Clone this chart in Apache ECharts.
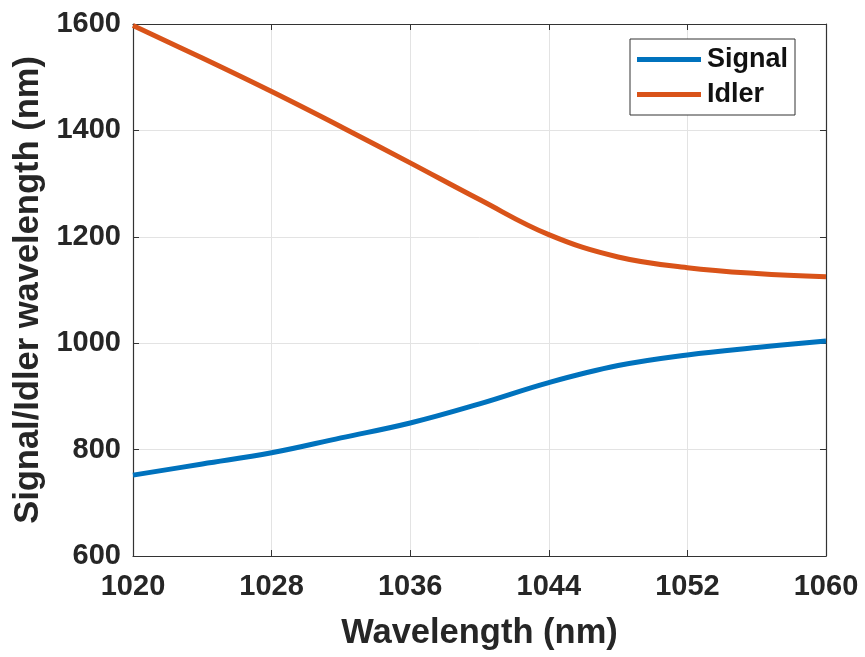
<!DOCTYPE html>
<html>
<head>
<meta charset="utf-8">
<script src="https://cdn.jsdelivr.net/npm/echarts@6/dist/echarts.min.js"></script>
<style>html,body{margin:0;padding:0;background:#fff}#c{width:865px;height:657px}</style>
</head>
<body>
<div id="c"></div>
<script>
const wavelengths = [1020, 1024, 1028, 1032, 1036, 1040, 1044, 1048, 1052, 1056, 1060];
const signalValues = [752, 773, 794, 822, 850, 886, 926, 958, 978, 992, 1004];
const idlerValues = [1597, 1536, 1473, 1407, 1339, 1270, 1204, 1162, 1142, 1131, 1125];
const xTicks = [1020, 1028, 1036, 1044, 1052, 1060];
const yTicks = [600, 800, 1000, 1200, 1400, 1600];

const FONT = '"Liberation Sans", Arial, sans-serif';
const AX = '#333333';
const GRIDC = '#e3e3e3';

const chart = echarts.init(document.getElementById('c'), null, {renderer: 'canvas'});
const pair = (xs, ys) => xs.map((x, i) => [x, ys[i]]);
const plain = v => String(v);

chart.setOption({
  animation: false,
  backgroundColor: '#ffffff',
  grid: {left: 133, right: 39, top: 24, bottom: 101, containLabel: false},
  legend: {
    orient: 'vertical',
    left: 630, top: 39,
    icon: 'rect',
    itemWidth: 64, itemHeight: 5,
    itemGap: 8,
    padding: [7, 7, 7, 7],
    borderColor: '#333', borderWidth: 1,
    backgroundColor: '#fff',
    textStyle: {fontFamily: FONT, fontWeight: 'bold', fontSize: 27, color: '#111', padding: [0,0,0,1]},
    data: ['Signal', 'Idler']
  },
  xAxis: [{
    type: 'value', min: 1020, max: 1060,
    name: 'Wavelength (nm)', nameLocation: 'middle', nameGap: 60,
    nameTextStyle: {fontFamily: FONT, fontWeight: 'bold', fontSize: 34.5, color: '#262626'},
    axisLine: {show: true, lineStyle: {color: AX, width: 1.2}},
    axisTick: {show: true, inside: true, length: 6, customValues: xTicks, lineStyle: {color: AX}},
    axisLabel: {customValues: xTicks, formatter: plain, margin: 16, fontFamily: FONT, fontWeight: 'bold', fontSize: 29, color: '#262626'},
    splitLine: {show: true, lineStyle: {color: GRIDC, width: 1}}
  }, {
    type: 'value', min: 1020, max: 1060, position: 'top',
    axisLine: {show: true, onZero: false, lineStyle: {color: AX, width: 1.2}},
    axisTick: {show: true, inside: true, length: 6, customValues: xTicks, lineStyle: {color: AX}},
    axisLabel: {show: false},
    splitLine: {show: false}
  }],
  yAxis: [{
    type: 'value', min: 600, max: 1600, interval: 200,
    name: 'Signal/Idler wavelength (nm)', nameLocation: 'middle', nameGap: 76,
    nameTextStyle: {fontFamily: FONT, fontWeight: 'bold', fontSize: 34.5, color: '#262626'},
    axisLine: {show: true, lineStyle: {color: AX, width: 1.2}},
    axisTick: {show: true, inside: true, length: 6, lineStyle: {color: AX}},
    axisLabel: {formatter: plain, margin: 12, fontFamily: FONT, fontWeight: 'bold', fontSize: 29, color: '#262626'},
    splitLine: {show: true, lineStyle: {color: GRIDC, width: 1}}
  }, {
    type: 'value', min: 600, max: 1600, interval: 200, position: 'right',
    axisLine: {show: true, onZero: false, lineStyle: {color: AX, width: 1.2}},
    axisTick: {show: true, inside: true, length: 6, lineStyle: {color: AX}},
    axisLabel: {show: false},
    splitLine: {show: false}
  }],
  series: [{
    name: 'Signal', type: 'line', smooth: 0.4, symbol: 'none',
    data: pair(wavelengths, signalValues),
    lineStyle: {color: '#0072BD', width: 5},
    itemStyle: {color: '#0072BD'}
  }, {
    name: 'Idler', type: 'line', smooth: 0.4, symbol: 'none',
    data: pair(wavelengths, idlerValues),
    lineStyle: {color: '#D95319', width: 5},
    itemStyle: {color: '#D95319'}
  }]
});
</script>
</body>
</html>
